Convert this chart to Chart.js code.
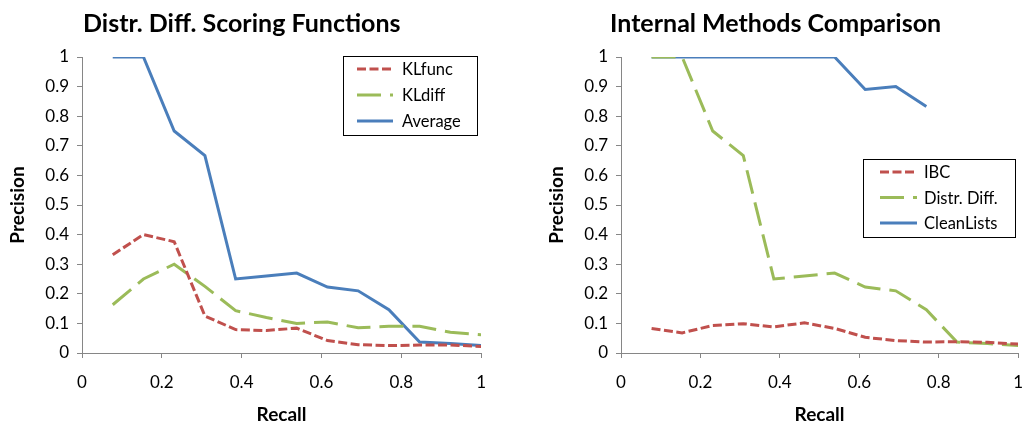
<!DOCTYPE html>
<html>
<head>
<meta charset="utf-8">
<script src="https://cdn.jsdelivr.net/npm/chart.js@4.4.0/dist/chart.umd.min.js"></script>
<style>
  html, body { margin: 0; padding: 0; background: #fff; overflow: hidden; width: 1022px; height: 422px; }
  canvas { position: absolute; top: 0; }
  #left { left: 0; }
  #right { left: 530px; }
</style>
</head>
<body>
<canvas id="left" width="500" height="422"></canvas>
<canvas id="right" width="507" height="422"></canvas>
<script>
const RECALL = [0.077, 0.154, 0.231, 0.308, 0.385, 0.462, 0.538, 0.615, 0.692, 0.769, 0.846, 0.923, 1.0];

const KL_FUNC = [0.332, 0.40, 0.376, 0.125, 0.079, 0.076, 0.084, 0.042, 0.028, 0.025, 0.027, 0.027, 0.022];
const KL_DIFF = [0.163, 0.25, 0.30, 0.225, 0.143, 0.12, 0.10, 0.105, 0.085, 0.09, 0.09, 0.07, 0.062];
const AVERAGE = [1.0, 1.0, 0.75, 0.667, 0.25, 0.26, 0.27, 0.223, 0.21, 0.146, 0.037, 0.032, 0.025];

const IBC = [0.083, 0.068, 0.093, 0.099, 0.088, 0.102, 0.083, 0.053, 0.042, 0.037, 0.038, 0.036, 0.030];
const DISTR_DIFF = [1.0, 1.0, 0.75, 0.667, 0.25, 0.26, 0.27, 0.223, 0.21, 0.146, 0.037, 0.032, 0.025];
const CLEAN_LISTS = [1.0, 1.0, 1.0, 1.0, 1.0, 1.0, 1.0, 0.89, 0.90, 0.833];

const RED = '#c0504d', GREEN = '#9bbb59', BLUE = '#4a7ebb', AXIS = '#868686';
const FONT = 'Lato';

let points = function(values) {
  return values.map((v, i) => ({ x: RECALL[i], y: v }));
};

let series = function(label, values, color, dash) {
  return { label: label, data: points(values), borderColor: color, backgroundColor: color,
           borderWidth: 3, borderDash: dash, pointRadius: 0, tension: 0, borderCapStyle: 'butt' };
};

// 0.2 / 1 style labels, no trailing ".0"
let tickText = function(v) {
  return String(Number(v.toFixed(1)));
};

// title + boxed legend drawn inside the plot, like the spreadsheet original
let overlay = {
  id: 'overlay',
  afterDraw(chart, args, opts) {
    let ctx = chart.ctx;
    ctx.save();
    ctx.fillStyle = '#000';
    ctx.textBaseline = 'alphabetic';
    ctx.font = 'bold 25px ' + FONT;
    ctx.fillText(opts.title, opts.titleX, opts.titleY);

    let b = opts.box;
    ctx.fillStyle = '#fff';
    ctx.fillRect(b.x, b.y, b.w, b.h);
    ctx.strokeStyle = '#000';
    ctx.lineWidth = 1;
    ctx.strokeRect(b.x + 0.5, b.y + 0.5, b.w, b.h);

    chart.data.datasets.forEach((ds, i) => {
      let y = b.y + opts.rowTop + i * opts.rowGap;
      ctx.strokeStyle = ds.borderColor;
      ctx.lineWidth = ds.borderWidth;
      ctx.setLineDash(ds.borderDash || []);
      ctx.beginPath();
      ctx.moveTo(b.x + opts.sampleX, y);
      ctx.lineTo(b.x + opts.sampleX + opts.sampleW, y);
      ctx.stroke();
      ctx.setLineDash([]);
      ctx.fillStyle = '#000';
      ctx.font = '16.5px ' + FONT;
      ctx.textBaseline = 'middle';
      ctx.fillText(ds.label, b.x + opts.textX, y + 1);
    });
    ctx.restore();
  }
};

let build = function(canvas, datasets, yWidth, padRight, titlePad, overlayOpts) {
  return new Chart(canvas, {
    type: 'line',
    data: { datasets: datasets },
    plugins: [overlay],
    options: {
      responsive: false,
      animation: false,
      layout: { padding: { top: 57, right: padRight, bottom: 0, left: 0 } },
      plugins: { legend: { display: false }, tooltip: { enabled: false }, overlay: overlayOpts },
      scales: {
        x: {
          type: 'linear', min: 0, max: 1,
          afterFit: (s) => { s.height = 69; },
          ticks: { stepSize: 0.2, color: '#000', font: { family: FONT, size: 17 }, padding: 14, maxRotation: 0, callback: tickText },
          grid: { drawOnChartArea: false, drawTicks: true, tickLength: 5, color: AXIS },
          border: { color: AXIS },
          title: { display: true, text: 'Recall', color: '#000', font: { family: FONT, size: 19, weight: 'bold', lineHeight: 0.7 }, padding: 0 }
        },
        y: {
          min: 0, max: 1,
          afterFit: (s) => { s.width = yWidth; },
          ticks: { stepSize: 0.1, color: '#000', font: { family: FONT, size: 17 }, padding: 8, callback: tickText },
          grid: { drawOnChartArea: false, drawTicks: true, tickLength: 5, color: AXIS },
          border: { color: AXIS },
          title: { display: true, text: 'Precision', color: '#000', font: { family: FONT, size: 19, weight: 'bold', lineHeight: 1 }, padding: { top: titlePad, bottom: 0 } }
        }
      }
    }
  });
};

build(document.getElementById('left'), [
  series('KLfunc', KL_FUNC, RED, [9, 3.5]),
  series('KLdiff', KL_DIFF, GREEN, [24, 9]),
  series('Average', AVERAGE, BLUE, [])
], 82, 9, 8, {
  title: 'Distr. Diff. Scoring Functions', titleX: 83, titleY: 32,
  box: { x: 343, y: 56, w: 134, h: 79 },
  rowTop: 13, rowGap: 26, sampleX: 14, sampleW: 36, textX: 59
});

build(document.getElementById('right'), [
  series('IBC', IBC, RED, [9, 3.5]),
  series('Distr. Diff.', DISTR_DIFF, GREEN, [24, 9]),
  series('CleanLists', CLEAN_LISTS, BLUE, [])
], 91, 5, 17, {
  title: 'Internal Methods Comparison', titleX: 80, titleY: 32,
  box: { x: 333, y: 159, w: 152, h: 78 },
  rowTop: 13, rowGap: 25.5, sampleX: 17, sampleW: 37, textX: 61
});
</script>
</body>
</html>
